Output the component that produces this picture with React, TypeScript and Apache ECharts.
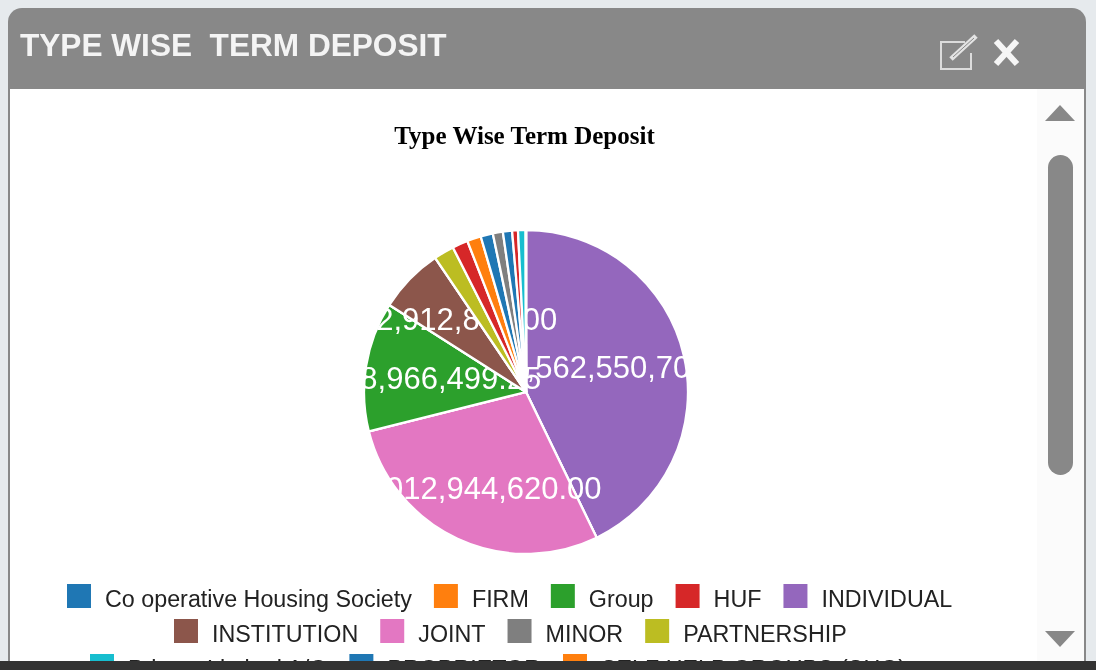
import React, { useEffect, useRef } from "react";
import * as echarts from "echarts";

const chartTitle = "Type Wise Term Deposit";
const panelTitle = "TYPE WISE\u00A0 TERM DEPOSIT";

const legendRow1 = ["Co operative Housing Society", "FIRM", "Group", "HUF", "INDIVIDUAL"];
const legendRow2 = ["INSTITUTION", "JOINT", "MINOR", "PARTNERSHIP"];
const legendRow3 = ["Private Limited A/C", "PROPRIETOR", "SELF HELP GROUPS (SHG)"];

const sliceNames = [
  "INDIVIDUAL", "JOINT", "Group", "INSTITUTION", "PARTNERSHIP", "HUF", "FIRM",
  "Co operative Housing Society", "MINOR", "PROPRIETOR", "TRUST", "Private Limited A/C", "SELF HELP GROUPS (SHG)",
];
const sliceValues = [
  4562550700.0, 3012944620.0, 1378966499.25, 692912863.0, 216000000, 165700000, 148000000,
  130000000, 106500000, 97600000, 62000000, 80000000, 4000000,
];
const sliceColors = [
  "#9467bd", "#e377c2", "#2ca02c", "#8c564b", "#bcbd22", "#d62728", "#ff7f0e",
  "#1f77b4", "#7f7f7f", "#1f77b4", "#d62728", "#17becf", "#ff7f0e",
];

const labelNudgeY = [-1, 0, 4, 2];
const labelledSlices = labelNudgeY.length;
const cx = 526, cy = 392, R = 162;
const total = sliceValues.reduce((a, b) => a + b, 0);

function fmt(v: number) {
  return v.toLocaleString("en-US", { minimumFractionDigits: 2, maximumFractionDigits: 2 });
}

function midAngle(i: number) {
  let s = 0;
  for (let j = 0; j < i; j++) s += sliceValues[j];
  return ((s + sliceValues[i] / 2) / total) * Math.PI * 2;
}

// Each layer repaints the later slices over the earlier label, as the original does.
function layer(i: number) {
  const labelled = i < labelledSlices;
  const a = labelled ? midAngle(i) : 0;
  const shift = 0.14 * R;
  return {
    type: "pie",
    z: 2 + i,
    center: [cx, cy],
    radius: [0, R],
    startAngle: 90,
    clockwise: true,
    animation: false,
    silent: true,
    avoidLabelOverlap: false,
    emphasis: { disabled: true },
    labelLine: { show: false },
    labelLayout: labelled
      ? { hideOverlap: false, dx: Math.sin(a) * shift, dy: -Math.cos(a) * shift + labelNudgeY[i] }
      : undefined,
    label: {
      show: false,
      position: "inside",
      color: "#fff",
      fontFamily: "Liberation Sans",
      fontSize: 31,
      overflow: "none",
      formatter: (p: any) => fmt(p.value),
    },
    data: sliceNames.map((name, j) => ({
      name,
      value: sliceValues[j],
      itemStyle:
        j < i
          ? { color: "rgba(0,0,0,0)", borderWidth: 0 }
          : { color: sliceColors[j], borderColor: "#fff", borderWidth: 2.3 },
      label: { show: labelled && j === i },
    })),
  };
}

function legendRow(names: string[], left: number, top: number) {
  return {
    data: names,
    left,
    top,
    padding: 0,
    orient: "horizontal",
    itemWidth: 26,
    itemHeight: 32,
    itemGap: 20,
    selectedMode: false,
    // the square sits above the text's middle: a speck at the bottom stretches the icon's box
    icon: "path://M0 0H26V26H0Z M0 32H0.01V32.01H0Z",
    textStyle: {
      fontFamily: "Liberation Sans",
      fontSize: 23.3,
      color: "#222",
      padding: [0, 0, 0, 8],
    },
  };
}

const G = "#888888";

export default function App() {
  const ref = useRef<HTMLDivElement>(null);
  useEffect(() => {
    document.body.style.margin = "0";
    document.body.style.overflow = "hidden";
    const chart = echarts.init(ref.current!, undefined, { renderer: "svg" });
    const layers = [0, 1, 2, 3, 4].map(layer);
    chart.setOption({
      animation: false,
      backgroundColor: "#e6eaed",
      title: {
        text: chartTitle,
        left: 519.5,
        textAlign: "center",
        top: 118,
        textStyle: { fontFamily: "Liberation Serif", fontWeight: "bold", fontSize: 25, color: "#000" },
      },
      legend: [legendRow(legendRow1, 65, 582), legendRow(legendRow2, 172, 617), legendRow(legendRow3, 88, 652)],
      series: layers,
      graphic: [
        { type: "rect", z: -10, shape: { x: 8, y: 8, width: 1078, height: 670, r: [14, 14, 0, 0] }, style: { fill: G } },
        { type: "rect", z: -9, shape: { x: 10, y: 89, width: 1074, height: 590 }, style: { fill: "#fff" } },
        { type: "rect", z: -8, shape: { x: 1037, y: 89, width: 47, height: 590 }, style: { fill: "#fbfbfb" } },
        { type: "rect", z: -8, shape: { x: 1048, y: 155, width: 25, height: 320, r: 12.5 }, style: { fill: G } },
        { type: "polygon", z: -8, shape: { points: [[1060, 105], [1075, 121], [1045, 121]] }, style: { fill: G } },
        { type: "polygon", z: -8, shape: { points: [[1045, 631], [1075, 631], [1060, 647]] }, style: { fill: G } },
        { type: "text", z: 10, x: 20, y: 29, style: { text: panelTitle, fill: "#f4f4f4", font: "bold 31.6px 'Liberation Sans'" } },
        { type: "polyline", z: 10, shape: { points: [[965, 42], [941, 42], [941, 69], [971, 69], [971, 53]] }, style: { fill: "none", stroke: "#dcdcdc", lineWidth: 2 } },
        { type: "line", z: 10, shape: { x1: 951, y1: 59, x2: 976, y2: 36 }, style: { stroke: "#e4e4e4", lineWidth: 5 } },
        { type: "line", z: 10, shape: { x1: 953, y1: 57, x2: 974, y2: 38 }, style: { stroke: G, lineWidth: 1 } },
        { type: "line", z: 10, shape: { x1: 996, y1: 41, x2: 1017, y2: 64 }, style: { stroke: "#f6f6f6", lineWidth: 6 } },
        { type: "line", z: 10, shape: { x1: 1017, y1: 41, x2: 996, y2: 64 }, style: { stroke: "#f6f6f6", lineWidth: 6 } },
        { type: "rect", z: 100, shape: { x: 0, y: 661, width: 1096, height: 10 }, style: { fill: "#333" } },
      ],
    });
    return () => chart.dispose();
  }, []);
  return <div ref={ref} style={{ width: 1096, height: 670, filter: "blur(0.5px)" }} />;
}
